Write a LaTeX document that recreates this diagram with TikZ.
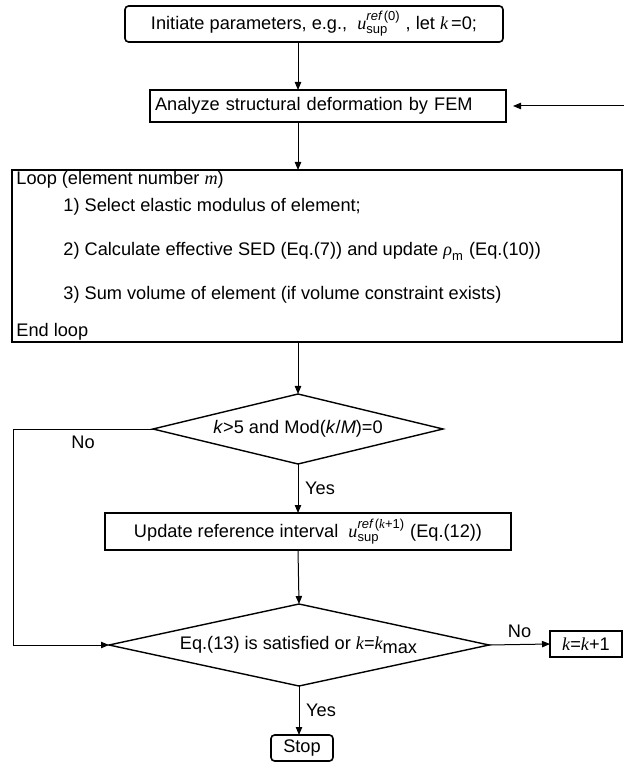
\documentclass[tikz,border=0pt]{standalone}
\usepackage{fontspec}
\setmainfont{Liberation Sans}
\newfontfamily\serif{Liberation Serif}
\usetikzlibrary{shapes.geometric,arrows.meta}

\newcommand{\mi}[1]{{\serif\itshape #1}}
\newcommand{\scr}{\fontsize{6.5}{7}\selectfont}
\newcommand{\usup}[1]{$\mbox{\mi{u}}^{\mbox{\scr\itshape ref\,\upshape #1}}_{\mbox{\scr sup}}$}

\tikzset{
  box/.style={draw, line width=0.8pt, inner sep=0pt, outer sep=0pt},
  rbox/.style={box, rounded corners=1.8pt},
  dec/.style={draw, line width=0.7pt, diamond, inner sep=0pt, outer sep=0pt},
  txt/.style={anchor=west, inner sep=0pt},
  flow/.style={line width=0.5pt, -{Triangle[length=4pt,width=3.2pt]}}
}

\begin{document}
\begin{tikzpicture}[x=0.5pt, y=-0.5pt, font=\fontsize{9.1}{11}\selectfont]
\useasboundingbox (0,0) rectangle (624,763);

\node[rbox, minimum width=189pt, minimum height=18pt] (init) at (314,24)
  {Initiate parameters, e.g.,\ \ \usup{(0)}\ , let \mi{k}\,=0;};
\node[box, inner xsep=2.5pt, text width=173pt, align=left, minimum height=16pt] (fem) at (328,106)
  {Analyze structural deformation by FEM};
\coordinate (back) at (624,106);

% loop over the elements
\node[box, minimum width=305pt, minimum height=86pt] (loop) at (317,256) {};
\node[txt] (l0) at (16,180) {Loop (element number \mi{m})};
\node[txt] (l1) at (63,207) {1) Select elastic modulus of element;};
\node[txt] (l2) at (63,251) {2) Calculate effective SED (Eq.(7)) and update $\mbox{\mi{ρ}}_{\mbox{\scr m}}$ (Eq.(10))};
\node[txt] (l3) at (63,295) {3) Sum volume of element (if volume constraint exists)};
\node[txt] (l4) at (16,332) {End loop};

\node[dec, aspect=4.14, minimum width=145pt, minimum height=35pt] (d1) at (298,429)
  {\textit{k}>5 and Mod(\textit{k}/\textit{M})=0};
\node[box, minimum width=203pt, minimum height=18.5pt] (upd) at (308,531.5)
  {Update reference interval\ \ \usup{(\mi{k}+1)} (Eq.(12))};
\node[dec, aspect=4.63, minimum width=190pt, minimum height=41pt] (d2) at (299,645)
  {Eq.(13) is satisfied or \mi{k}=$\mbox{\mi{k}}_{\mbox{max}}$};
\node[box, minimum width=36pt, minimum height=13pt] (inc) at (586,644) {\mi{k}=\mi{k}+1};
\node[rbox, minimum width=31pt, minimum height=13pt] (stop) at (302,748) {Stop};

\draw[flow] (init.south -| d1) -- (fem.north -| d1);
\draw[flow] (back) -- ([xshift=3.5pt]fem.east);
\draw[flow] (fem.south -| d1) -- (loop.north -| d1);
\draw[flow] (loop.south -| d1) -- (d1.north);
\draw[flow] (d1.south) -- node[right] {Yes} (upd.north -| d1);
\draw[flow] (d1.west) -- ++(-140,0) node[midway, below] {No} |- (d2.west);
\draw[flow] (upd.south -| d1) -- (d2.north);
\draw[flow] (d2.east) -- node[above] {No} (inc.west);
\draw[flow] (d2.south) -- node[right] {Yes} (stop.north -| d2);
\end{tikzpicture}
\end{document}
